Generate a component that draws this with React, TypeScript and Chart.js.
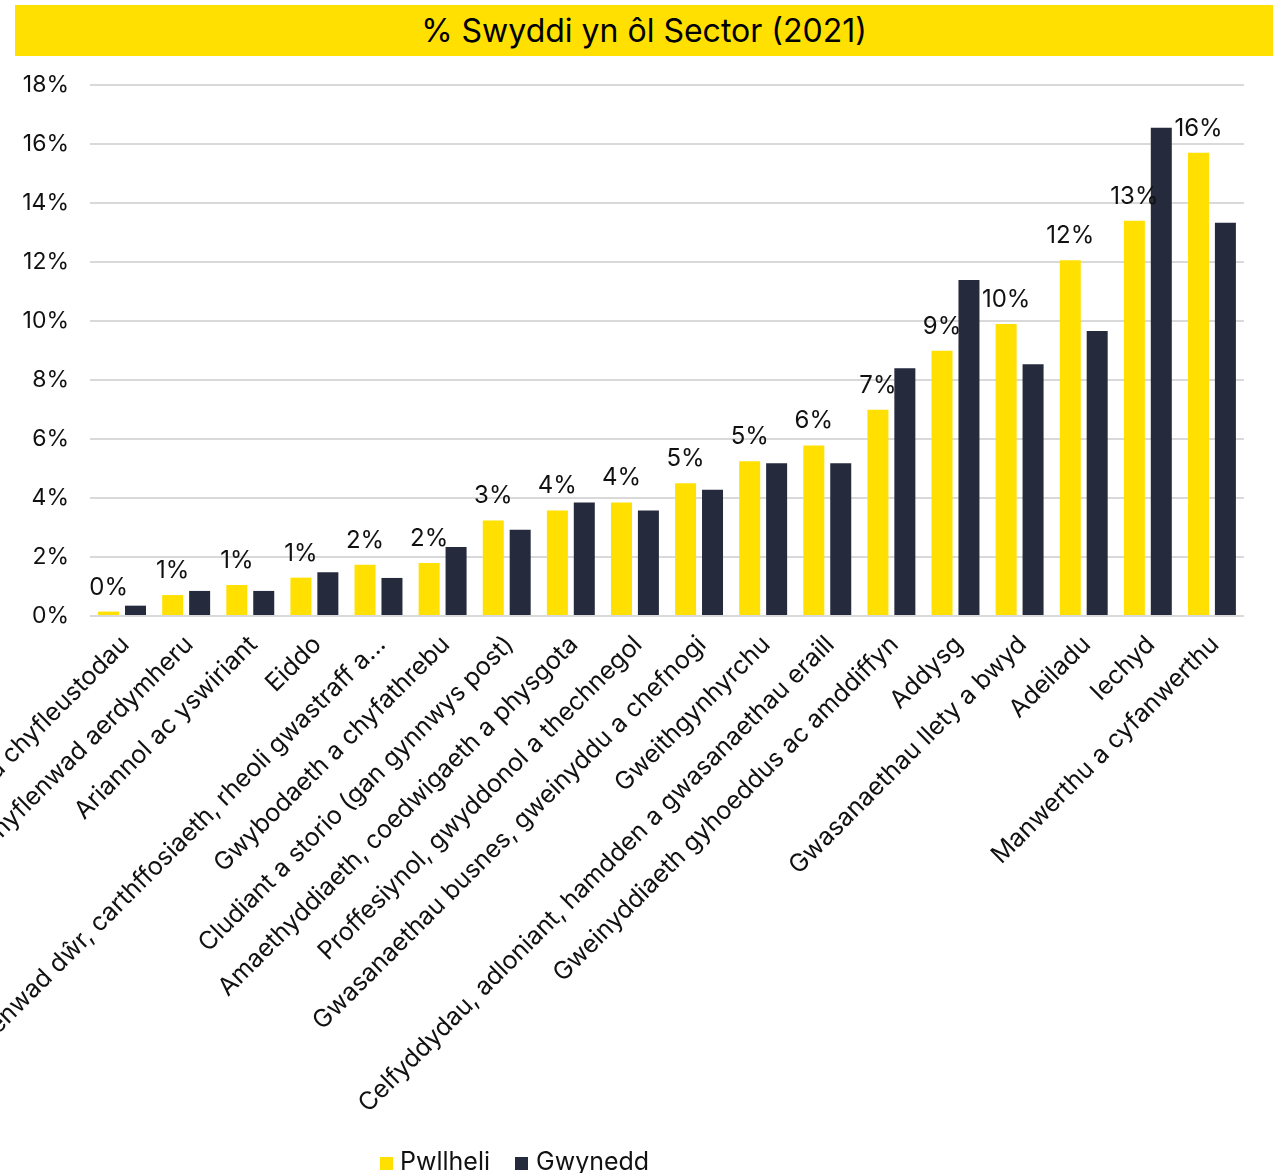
import React, { useEffect, useRef } from "react";
import { Chart, registerables } from "chart.js";

Chart.register(...registerables);

const title = "% Swyddi yn ôl Sector (2021)";

const categories = [
  "Mwyngloddio, chwarela a chyfleustodau",
  "Trydan, nwy, stêm a chyflenwad aerdymheru",
  "Ariannol ac yswiriant",
  "Eiddo",
  "Cyflenwad dŵr, carthffosiaeth, rheoli gwastraff a...",
  "Gwybodaeth a chyfathrebu",
  "Cludiant a storio (gan gynnwys post)",
  "Amaethyddiaeth, coedwigaeth a physgota",
  "Proffesiynol, gwyddonol a thechnegol",
  "Gwasanaethau busnes, gweinyddu a chefnogi",
  "Gweithgynhyrchu",
  "Celfyddydau, adloniant, hamdden a gwasanaethau eraill",
  "Gweinyddiaeth gyhoeddus ac amddiffyn",
  "Addysg",
  "Gwasanaethau llety a bwyd",
  "Adeiladu",
  "Iechyd",
  "Manwerthu a cyfanwerthu",
];

const seriesNames = ["Pwllheli", "Gwynedd"];

const pwllheli = [0.15, 0.71, 1.05, 1.3, 1.74, 1.8, 3.24, 3.58, 3.85, 4.5, 5.25, 5.78, 6.99, 8.99, 9.9, 12.06, 13.4, 15.7];
const gwynedd = [0.35, 0.85, 0.85, 1.48, 1.29, 2.34, 2.92, 3.85, 3.58, 4.28, 5.18, 5.18, 8.4, 11.39, 8.53, 9.66, 16.55, 13.33];

const yMin = 0;
const yMax = 18;
const yStep = 2;

const YELLOW = "#FFE000";
const NAVY = "#262A3D";
const FONT = "Inter, 'Noto Sans', sans-serif";

const valueLabels = {
  id: "valueLabels",
  afterDatasetsDraw(chart: any) {
    const meta = chart.getDatasetMeta(0);
    const ctx = chart.ctx;
    ctx.save();
    ctx.font = `24px ${FONT}`;
    ctx.fillStyle = "#111";
    ctx.textAlign = "center";
    ctx.textBaseline = "alphabetic";
    meta.data.forEach((el: any, i: number) => {
      ctx.fillText(Math.round(pwllheli[i]) + "%", el.x, el.y - 17);
    });
    ctx.restore();
  },
};

export default function App() {
  const ref = useRef<HTMLCanvasElement | null>(null);

  useEffect(() => {
    if (!ref.current) return;
    const chart = new Chart(ref.current, {
      type: "bar",
      data: {
        labels: categories,
        datasets: [
          {
            label: seriesNames[0],
            data: pwllheli,
            backgroundColor: YELLOW,
            categoryPercentage: 0.84,
            barPercentage: 0.78,
          },
          {
            label: seriesNames[1],
            data: gwynedd,
            backgroundColor: NAVY,
            categoryPercentage: 0.84,
            barPercentage: 0.78,
          },
        ],
      },
      options: {
        responsive: false,
        animation: false,
        layout: { padding: { top: 85, right: 37, left: 0, bottom: 0 } },
        plugins: {
          legend: { display: false },
          title: { display: false },
          tooltip: { enabled: false },
        },
        scales: {
          x: {
            grid: { display: false, drawTicks: false },
            border: { display: false },
            ticks: {
              autoSkip: false,
              minRotation: 45,
              maxRotation: 45,
              padding: 14,
              labelOffset: 3,
              color: "#111",
              font: { family: FONT, size: 25 },
            },
            afterFit: (scale: any) => {
              scale.paddingLeft = 0;
              scale.paddingRight = 0;
              scale.height = 557;
            },
          },
          y: {
            min: yMin,
            max: yMax,
            grid: { color: "#D9D9D9", lineWidth: 2, drawTicks: false },
            border: { display: false },
            ticks: {
              stepSize: yStep,
              padding: 21,
              color: "#111",
              font: { family: FONT, size: 23 },
              callback: (v: any) => v + "%",
            },
            afterFit: (scale: any) => {
              scale.width = 90;
              scale.paddingTop = 0;
              scale.paddingBottom = 0;
            },
          },
        },
      },
      plugins: [valueLabels],
    });
    return () => chart.destroy();
  }, []);

  return (
    <div style={{ position: "fixed", left: 0, top: 0, width: 1281, height: 1173, background: "#fff", overflow: "hidden" }}>
      <canvas ref={ref} width={1281} height={1173} style={{ position: "absolute", left: 0, top: 0 }} />
      <div
        style={{
          position: "absolute",
          left: 15,
          top: 5,
          width: 1258,
          height: 51,
          background: YELLOW,
          display: "flex",
          alignItems: "center",
          justifyContent: "center",
          fontFamily: FONT,
          fontSize: 32,
          color: "#000",
        }}
      >
        {title}
      </div>
      <div
        style={{
          position: "absolute",
          left: 380,
          top: 1146,
          display: "flex",
          alignItems: "center",
          fontFamily: FONT,
          fontSize: 25,
          color: "#111",
          lineHeight: "30px",
        }}
      >
        <span style={{ width: 13, height: 13, background: YELLOW, display: "inline-block", marginRight: 7, marginTop: 4 }} />
        <span style={{ marginRight: 25 }}>{seriesNames[0]}</span>
        <span style={{ width: 13, height: 13, background: NAVY, display: "inline-block", marginRight: 8, marginTop: 4 }} />
        <span>{seriesNames[1]}</span>
      </div>
    </div>
  );
}
